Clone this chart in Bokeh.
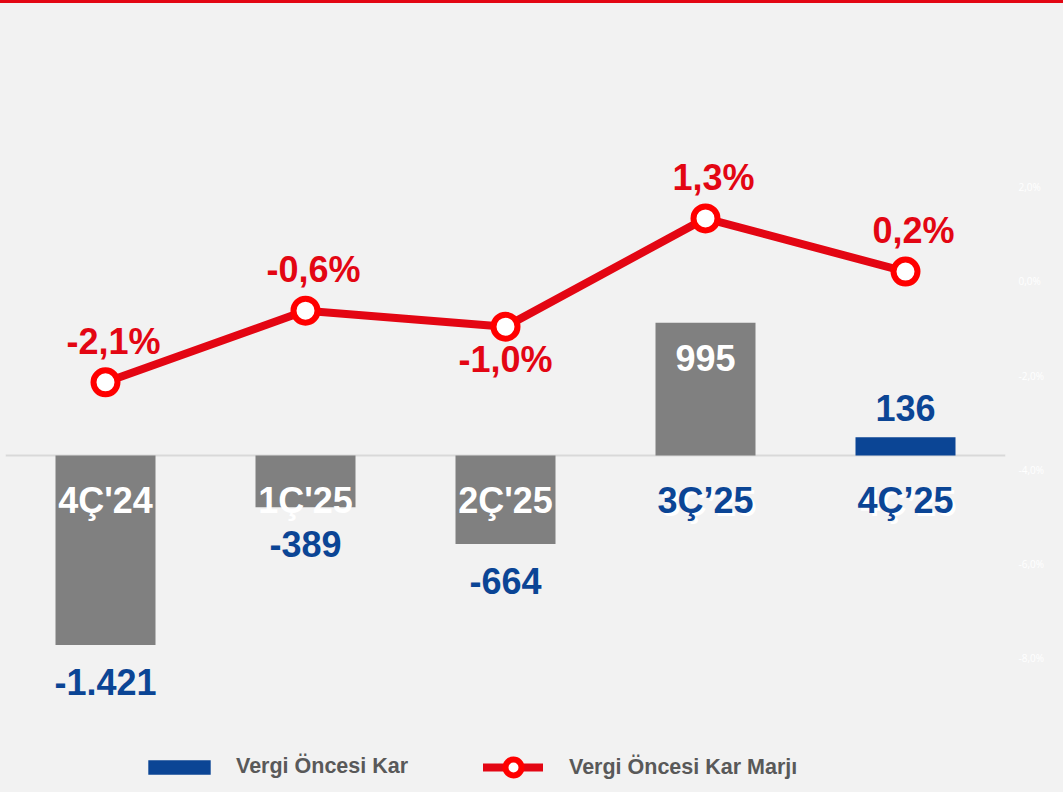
from bokeh.plotting import figure
from bokeh.models import (Range1d, LinearAxis, FixedTicker, Span, Legend, LegendItem,
                          ColumnDataSource, GlobalInlineStyleSheet)
from bokeh.core.properties import value
from bokeh.embed import file_html
from bokeh.resources import INLINE

# ---------------- data ----------------
quarters = ["4Ç'24", "1Ç'25", "2Ç'25", "3Ç’25", "4Ç’25"]
profit = [-1421, -389, -664, 995, 136]
profit_labels = ["-1.421", "-389", "-664", "995", "136"]
margin = [-2.14, -0.62, -0.96, 1.34, 0.21]
margin_labels = ["-2,1%", "-0,6%", "-1,0%", "1,3%", "0,2%"]
pct_ticks = [2, 0, -2, -4, -6, -8]
pct_tick_labels = ["2,0%", "0,0%", "-2,0%", "-4,0%", "-6,0%", "-8,0%"]
series_names = ["Vergi Öncesi Kar", "Vergi Öncesi Kar Marjı"]

# ---------------- style ----------------
BG = "#f2f2f2"
GRAY = "#808080"
BLUE = "#0b4595"
RED = "#e30613"
MRED = "#ff0000"
TXT = "#595959"
FONT = value("Liberation Sans")
HL = len(quarters) - 1  # highlighted (latest) quarter

xs = list(range(len(quarters)))
bar_colors = [BLUE if i == HL else GRAY for i in xs]

p = figure(width=1063, height=789,
           x_range=Range1d(-0.5, 4.5), y_range=Range1d(-2527.5, 3390),
           x_axis_location=None, y_axis_location=None,
           output_backend="svg", toolbar_location=None,
           min_border_left=5, min_border_top=0, min_border_bottom=0, min_border_right=58,
           background_fill_color=BG, border_fill_color=BG, outline_line_color=None)
p.grid.visible = False
p.stylesheets = [GlobalInlineStyleSheet(
    css="body{background:#f2f2f2;border-top:3px solid #e30613;}")]

p.extra_y_ranges = {"pct": Range1d(-10.849, 5.902)}
ax = LinearAxis(y_range_name="pct", ticker=FixedTicker(ticks=pct_ticks),
                major_label_overrides={t: l for t, l in zip(pct_ticks, pct_tick_labels)},
                axis_line_color=None, major_tick_line_color=None, minor_tick_line_color=None,
                major_tick_in=0, major_tick_out=0,
                major_label_text_color="white", major_label_text_font_size="10px",
                major_label_text_font="Open Sans", major_label_standoff=13)
p.add_layout(ax, "right")

p.add_layout(Span(location=0, dimension="width", line_color="#d9d9d9", line_width=2,
                  level="underlay"))

src = ColumnDataSource(dict(x=xs, top=profit, color=bar_colors))
bars = p.vbar(x="x", top="top", bottom=0, width=0.5, fill_color="color",
              line_color=None, source=src)

line_r = p.line(xs, margin, y_range_name="pct", line_width=8, line_color=RED,
                line_cap="round", line_join="round")
dots = p.scatter(xs, margin, y_range_name="pct", size=24, fill_color="white",
                 line_color=MRED, line_width=6)

common = dict(text_font=FONT, text_font_style="bold", text_font_size="36px",
              text_align="center", text_baseline="middle")

# category labels
gray_idx = [i for i in xs if i < 3]
blue_idx = [i for i in xs if i >= 3]
p.text([xs[i] for i in gray_idx], [0] * len(gray_idx), text=[quarters[i] for i in gray_idx],
       text_color="white", y_offset=45, **common)
p.text([xs[i] for i in blue_idx], [0] * len(blue_idx), text=[quarters[i] for i in blue_idx],
       text_color="white", x_offset=3, y_offset=48, **common)
p.text([xs[i] for i in blue_idx], [0] * len(blue_idx), text=[quarters[i] for i in blue_idx],
       text_color=BLUE, y_offset=45, **common)

# bar value labels
neg = [i for i in xs if profit[i] < 0]
pos_in = [i for i in xs if profit[i] >= 0 and i != HL]
pos_out = [i for i in xs if profit[i] >= 0 and i == HL]
p.text([xs[i] for i in neg], [profit[i] for i in neg], text=[profit_labels[i] for i in neg],
       text_color=BLUE, y_offset=37, **common)
p.text([xs[i] for i in pos_in], [profit[i] for i in pos_in], text=[profit_labels[i] for i in pos_in],
       text_color="white", y_offset=35, **common)
p.text([xs[i] for i in pos_out], [profit[i] for i in pos_out], text=[profit_labels[i] for i in pos_out],
       text_color=BLUE, y_offset=-29, **common)

# margin labels
below = [2]
above = [i for i in xs if i not in below]
p.text([xs[i] for i in above], [margin[i] for i in above], text=[margin_labels[i] for i in above],
       y_range_name="pct", text_color=RED, x_offset=8, y_offset=-41, **common)
p.text([xs[i] for i in below], [margin[i] for i in below], text=[margin_labels[i] for i in below],
       y_range_name="pct", text_color=RED, y_offset=33, **common)

leg_common = dict(orientation="horizontal", padding=0, margin=0, spacing=0,
                  background_fill_alpha=0, border_line_alpha=0,
                  label_text_font="Liberation Sans", label_text_font_style="bold",
                  label_text_font_size="21.5px", label_text_color=TXT)
leg1 = Legend(items=[LegendItem(label=series_names[0], renderers=[bars], index=HL)],
              location=(135, 13), glyph_width=78, glyph_height=18, label_height=18,
              label_standoff=18, **leg_common)
leg2 = Legend(items=[LegendItem(label=series_names[1], renderers=[line_r, dots])],
              location=(478, 5), glyph_width=60, glyph_height=40, label_height=40,
              label_standoff=26, **leg_common)
p.add_layout(leg1)
p.add_layout(leg2)

open("out.html", "w").write(file_html(p, INLINE))
